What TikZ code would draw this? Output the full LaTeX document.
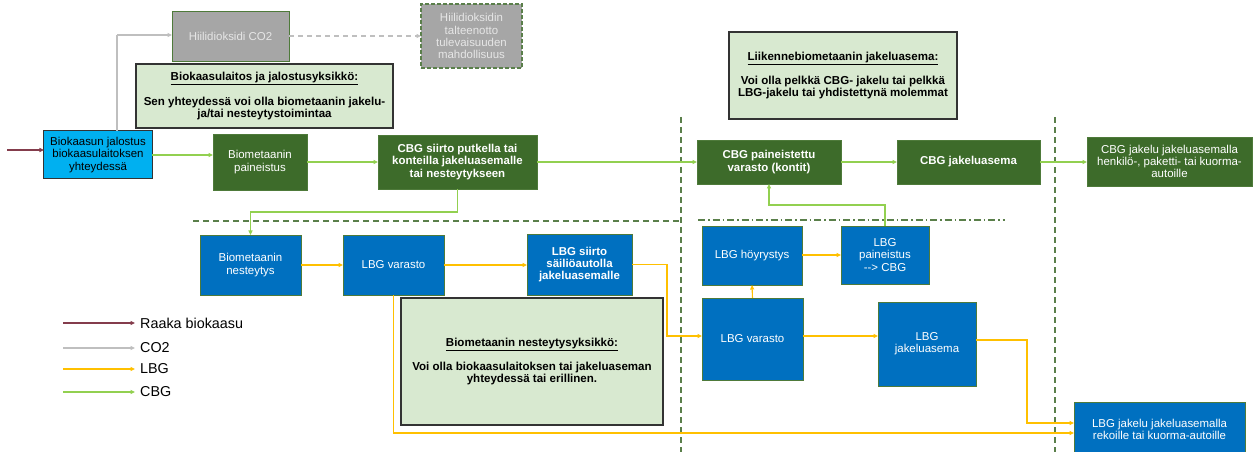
\documentclass[tikz,border=0pt]{standalone}
\usepackage{fontspec}
\setmainfont{Liberation Sans}
\usetikzlibrary{arrows.meta}
\definecolor{dkgreen}{HTML}{3D6B2A}
\definecolor{lbblue}{HTML}{0070C0}
\definecolor{cyanbox}{HTML}{00B0F0}
\definecolor{infofill}{HTML}{D8E9D0}
\definecolor{infoborder}{HTML}{333333}
\definecolor{boxborder}{HTML}{4E7A3A}
\definecolor{graybox}{HTML}{A6A6A6}
\definecolor{graytext}{HTML}{E6E6E6}
\definecolor{rawcol}{HTML}{843C4C}
\definecolor{co2col}{HTML}{BFBFBF}
\definecolor{lbgcol}{HTML}{FFC000}
\definecolor{cbgcol}{HTML}{92D050}
\definecolor{divcol}{HTML}{5A7F4A}
\begin{document}
\begin{tikzpicture}[x=1bp,y=-1bp,
  proc/.style={draw=boxborder, line width=0.8bp, inner sep=0pt, outer sep=0pt, align=center, text=white, font=\fontsize{11.5}{12.2}\selectfont},
  boldproc/.style={font=\bfseries\fontsize{11.5}{12.2}\selectfont},
  dgbox/.style={proc, fill=dkgreen},
  bluebox/.style={proc, fill=lbblue},
  graynode/.style={proc, fill=graybox, text=graytext},
  infobox/.style={draw=infoborder, line width=1.5bp, fill=infofill, inner sep=0pt, outer sep=0pt, align=center, font=\bfseries\fontsize{11.6}{12}\selectfont},
  flow/.style={line width=1.1bp, -{Triangle[length=4.5bp,width=4bp]}},
  rawline/.style={flow, draw=rawcol},
  co2line/.style={flow, draw=co2col},
  lbgline/.style={flow, draw=lbgcol},
  cbgline/.style={flow, draw=cbgcol},
  divider/.style={draw=divcol, line width=1.4bp, dash pattern=on 6bp off 4bp},
  divdot/.style={draw=divcol, line width=1.4bp, dash pattern=on 7bp off 3bp on 1.5bp off 3bp},
  legtext/.style={anchor=west, inner sep=0pt, font=\fontsize{14.4}{16}\selectfont}
]
\useasboundingbox (0,0) rectangle (1254,452);

% info boxes
\node[infobox, minimum width=257bp, minimum height=64bp] (info1) at (264.5,96)
  {\underline{Biokaasulaitos ja jalostusyksikkö:}\\[11bp]Sen yhteydessä voi olla biometaanin jakelu-\\ja/tai nesteytystoimintaa};
\node[infobox, minimum width=228bp, minimum height=87bp] (info2) at (843,75.5)
  {\underline{Liikennebiometaanin jakeluasema:}\\[11bp]Voi olla pelkkä CBG- jakelu tai pelkkä\\LBG-jakelu tai yhdistettynä molemmat};
\node[infobox, minimum width=262bp, minimum height=127bp] (info3) at (532,361.5)
  {\underline{Biometaanin nesteytysyksikkö:}\\[11bp]Voi olla biokaasulaitoksen tai jakeluaseman\\yhteydessä tai erillinen.};

% dividers
\draw[divider] (681,117) -- (681,452);
\draw[divider] (1055,117) -- (1055,452);
\draw[divider] (193,221) -- (681,221);
\draw[divdot] (698,220) -- (1005,220);

% process boxes
\node[graynode, minimum width=117bp, minimum height=50bp] (co2) at (230.5,36) {Hiilidioksidi CO2};
\node[graynode, draw=divcol, line width=1.2bp, dash pattern=on 4bp off 2bp, minimum width=101bp, minimum height=64bp] (ccs) at (471.5,36) {Hiilidioksidin\\talteenotto\\tulevaisuuden\\mahdollisuus};
\node[proc, fill=cyanbox, draw=infoborder, text=black, line width=1bp, minimum width=108bp, minimum height=48bp] (jal) at (98,155) {Biokaasun jalostus\\biokaasulaitoksen\\yhteydessä};
\node[dgbox, minimum width=94bp, minimum height=56bp] (pain) at (260,162) {Biometaanin\\paineistus};
\node[dgbox, boldproc, minimum width=159bp, minimum height=54bp] (siirto) at (457.5,162) {CBG siirto putkella tai\\konteilla jakeluasemalle\\tai nesteytykseen};
\node[dgbox, boldproc, minimum width=144bp, minimum height=44bp] (cbgvar) at (769,162) {CBG paineistettu\\varasto (kontit)};
\node[dgbox, boldproc, minimum width=143bp, minimum height=44bp] (cbgjak) at (968.5,162) {CBG jakeluasema};
\node[dgbox, minimum width=165bp, minimum height=49bp] (cbgend) at (1169.5,161.5) {CBG jakelu jakeluasemalla\\henkilö-, paketti- tai kuorma-\\autoille};

\node[bluebox, minimum width=101bp, minimum height=60bp] (nest) at (250.5,265) {Biometaanin\\nesteytys};
\node[bluebox, minimum width=101bp, minimum height=60bp] (lbgvar1) at (393.5,265) {LBG varasto};
\node[bluebox, boldproc, minimum width=105bp, minimum height=61bp] (lbgsiirto) at (579.5,264.5) {LBG siirto\\säiliöautolla\\jakeluasemalle};
\node[bluebox, minimum width=100bp, minimum height=59bp] (hoyr) at (752,255.5) {LBG höyrystys};
\node[bluebox, minimum width=101bp, minimum height=82bp] (lbgvar2) at (752.5,339) {LBG varasto};
\node[bluebox, minimum width=88bp, minimum height=58bp] (lbgpain) at (885,255) {LBG\\paineistus\\-{}-> CBG};
\node[bluebox, minimum width=98bp, minimum height=84bp] (lbgjak) at (927,344) {LBG\\jakeluasema};
\node[bluebox, minimum width=171bp, minimum height=54bp] (lbgend) at (1159.5,429) {LBG jakelu jakeluasemalla\\rekoille tai kuorma-autoille};

% helper coordinates
\coordinate (rawin) at (7,150);
\coordinate (c1) at (117,35);
\coordinate (c2) at (0,212);
\coordinate (c3) at (667,0);
\coordinate (c4) at (0,336);
\coordinate (c5) at (0,433);
\coordinate (c6) at (0,205);
\coordinate (c7) at (1027,0);
\coordinate (c8) at (0,340);
\coordinate (c9) at (0,423);
\coordinate (c10) at (0,255);

% connectors
\draw[rawline] (rawin) -- (jal.west |- rawin);
\draw[co2line, -] (jal.north -| c1) -- (c1);
\draw[co2line] (c1) -- (co2.west |- c1);
\draw[co2line, dashed, dash pattern=on 5bp off 4bp] (co2.east) -- (ccs.west);
\draw[cbgline] (jal.east) -- (jal.east -| pain.west);
\draw[cbgline] (pain.east |- siirto.west) -- (siirto.west);
\draw[cbgline] (siirto.east) -- (cbgvar.west);
\draw[cbgline] (cbgvar.east) -- (cbgjak.west);
\draw[cbgline] (cbgjak.east) -- (cbgjak.east -| cbgend.west);
\draw[cbgline] (siirto.south) -- (siirto.south |- c2) -| (nest.north);
\draw[cbgline] (lbgpain.north) -- (lbgpain.north |- c6) -| (cbgvar.south);

\draw[lbgline] (nest.east) -- (lbgvar1.west);
\draw[lbgline] (lbgvar1.east) -- (lbgvar1.east -| lbgsiirto.west);
\draw[lbgline] (lbgsiirto.east) -- (c3 |- lbgsiirto.east) -- (c3 |- c4) -- (lbgvar2.west |- c4);
\draw[lbgline] (lbgvar1.south) |- (lbgend.west |- c5);
\draw[lbgline] (lbgvar2.north) -- (hoyr.south);
\draw[lbgline] (hoyr.east |- c10) -- (lbgpain.west |- c10);
\draw[lbgline] (lbgvar2.east |- c4) -- (lbgjak.west |- c4);
\draw[lbgline] (lbgjak.east |- c8) -| (c7 |- c9) -- (lbgend.west |- c9);

% legend
\node[legtext] (l1) at (140,323) {Raaka biokaasu};
\node[legtext] (l2) at (140,348) {CO2};
\node[legtext] (l3) at (140,369) {LBG};
\node[legtext] (l4) at (140,392) {CBG};
\coordinate (l1s) at (63,323);
\coordinate (l2s) at (63,348);
\coordinate (l3s) at (63,369);
\coordinate (l4s) at (63,392);
\draw[rawline] (l1s) -- ([xshift=-5bp]l1.west);
\draw[co2line] (l2s) -- ([xshift=-5bp]l2.west);
\draw[lbgline] (l3s) -- ([xshift=-5bp]l3.west);
\draw[cbgline] (l4s) -- ([xshift=-5bp]l4.west);
\end{tikzpicture}
\end{document}
